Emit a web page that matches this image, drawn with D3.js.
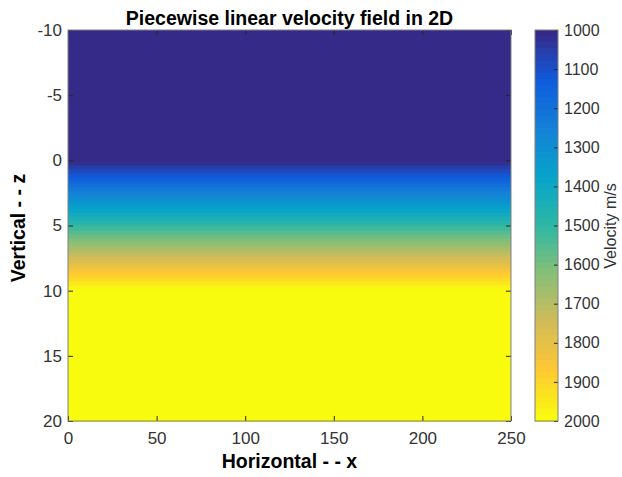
<!DOCTYPE html>
<html>
<head>
<meta charset="utf-8">
<script src="https://cdn.jsdelivr.net/npm/d3@7"></script>
<style>
  body { margin: 0; background: #fff; }
  text { font-family: "Liberation Sans", Arial, sans-serif; fill: #333; }
  .axis path { display: none; }
  .axis line { stroke: #262626; }
</style>
</head>
<body>
<div id="chart"></div>
<script>
// velocity model: knots of the piecewise linear profile (depth z, velocity m/s)
let zKnots = [-10, 0, 10, 20];
let vKnots = [1000, 1000, 2000, 2000];

// sampled depths of the grid rows
let zRows = d3.range(-10, 20.0001, 0.1);

// tick labels
let xTicks = [0, 50, 100, 150, 200, 250];
let yTicks = [-10, -5, 0, 5, 10, 15, 20];
let cTicks = [1000, 1100, 1200, 1300, 1400, 1500, 1600, 1700, 1800, 1900, 2000];

// parula anchors (every 8th entry of the 64 colour map)
let parula = ["#352a87", "#0f5cdd", "#1481d6", "#06a4ca", "#2eb7a4",
  "#87bf77", "#d1bb59", "#fec832", "#f9fb0e"];

let svgWidth = 622;
let svgHeight = 477;

let margin = { top: 30, left: 68 };
let width = 443;
let height = 391;

let svg = d3.select("#chart")
  .append("svg")
  .attr("width", svgWidth)
  .attr("height", svgHeight);

let g = svg.append("g")
  .attr("transform", `translate(${margin.left}, ${margin.top})`);

// scales
let xScale = d3.scaleLinear().domain([0, 250]).range([0, width]);
let yScale = d3.scaleLinear().domain([-10, 20]).range([0, height]);
let velocity = d3.scaleLinear().domain(zKnots).range(vKnots);

let interp = d3.piecewise(d3.interpolateRgb, parula);
let colors64 = d3.range(64).map(i => interp(i / 63));
let colorScale = d3.scaleQuantize().domain([1000, 2000]).range(colors64);

let plain = d => String(d);

// velocity field rows
let dz = zRows[1] - zRows[0];
g.selectAll("rect.cell")
  .data(zRows)
  .enter()
  .append("rect")
  .attr("class", "cell")
  .attr("x", 0)
  .attr("width", width)
  .attr("y", d => yScale(Math.max(-10, d - dz / 2)))
  .attr("height", d => yScale(Math.min(20, d + dz / 2)) - yScale(Math.max(-10, d - dz / 2)) + 0.6)
  .attr("fill", d => colorScale(velocity(d)))
  .attr("shape-rendering", "crispEdges");

// axes with inward ticks
g.append("g")
  .attr("class", "axis")
  .attr("transform", `translate(0, ${height})`)
  .call(d3.axisBottom(xScale).tickValues(xTicks).tickFormat(plain).tickSizeInner(-5).tickPadding(11))
  .selectAll("text").style("font-size", "17px");

g.append("g")
  .attr("class", "axis")
  .call(d3.axisLeft(yScale).tickValues(yTicks).tickFormat(plain).tickSizeInner(-5).tickPadding(6))
  .selectAll("text").style("font-size", "17px");

g.append("g")
  .attr("class", "axis")
  .call(d3.axisTop(xScale).tickValues(xTicks).tickSizeInner(-5).tickFormat(""));

g.append("g")
  .attr("class", "axis")
  .attr("transform", `translate(${width}, 0)`)
  .call(d3.axisRight(yScale).tickValues(yTicks).tickSizeInner(-5).tickFormat(""));

// box
g.append("rect")
  .attr("width", width)
  .attr("height", height)
  .attr("fill", "none")
  .attr("stroke", "#808080")
  .attr("stroke-width", 1);

// colorbar
let cbX = 535;
let cbW = 23;
let cScale = d3.scaleLinear().domain([1000, 2000]).range([margin.top, margin.top + height]);
let bandW = 1000 / 64;

svg.selectAll("rect.band")
  .data(colors64)
  .enter()
  .append("rect")
  .attr("class", "band")
  .attr("x", cbX)
  .attr("width", cbW)
  .attr("y", (d, i) => cScale(1000 + i * bandW))
  .attr("height", (d, i) => cScale(1000 + (i + 1) * bandW) - cScale(1000 + i * bandW) + 0.5)
  .attr("fill", d => d)
  .attr("shape-rendering", "crispEdges");

svg.append("g")
  .attr("class", "axis")
  .attr("transform", `translate(${cbX + cbW}, 0)`)
  .call(d3.axisRight(cScale).tickValues(cTicks).tickFormat(plain).tickSizeInner(-4).tickPadding(6))
  .selectAll("text").style("font-size", "16px");

svg.append("rect")
  .attr("x", cbX)
  .attr("y", margin.top)
  .attr("width", cbW)
  .attr("height", height)
  .attr("fill", "none")
  .attr("stroke", "#808080");

// titles and labels
svg.append("text")
  .attr("x", margin.left + width / 2)
  .attr("y", 25)
  .attr("text-anchor", "middle")
  .style("font-size", "19.5px")
  .style("font-weight", "bold")
  .style("fill", "#000")
  .text("Piecewise linear velocity field in 2D");

svg.append("text")
  .attr("x", margin.left + width / 2)
  .attr("y", 468)
  .attr("text-anchor", "middle")
  .style("font-size", "19.5px")
  .style("font-weight", "bold")
  .style("fill", "#000")
  .text("Horizontal - - x");

svg.append("text")
  .attr("transform", `translate(25, 228) rotate(-90)`)
  .attr("text-anchor", "middle")
  .style("font-size", "19.5px")
  .style("font-weight", "bold")
  .style("fill", "#000")
  .text("Vertical - - z");

svg.append("text")
  .attr("transform", `translate(616, 226) rotate(-90)`)
  .attr("text-anchor", "middle")
  .style("font-size", "16px")
  .text("Velocity m/s");
</script>
</body>
</html>
